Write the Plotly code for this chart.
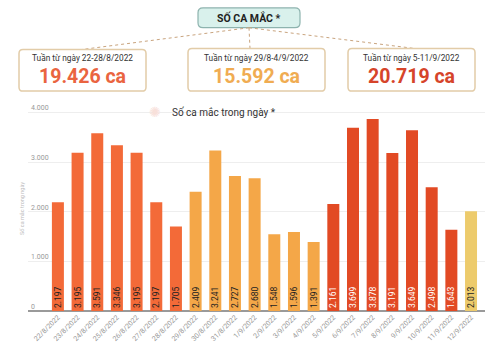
import plotly.graph_objects as go

dates = ["22/8/2022", "23/8/2022", "24/8/2022", "25/8/2022", "26/8/2022", "27/8/2022", "28/8/2022",
         "29/8/2022", "30/8/2022", "31/8/2022", "1/9/2022", "2/9/2022", "3/9/2022", "4/9/2022",
         "5/9/2022", "6/9/2022", "7/9/2022", "8/9/2022", "9/9/2022", "10/9/2022", "11/9/2022", "12/9/2022"]
cases = [2197, 3195, 3591, 3346, 3195, 2197, 1705,
         2409, 3241, 2727, 2680, 1548, 1596, 1391,
         2161, 3699, 3878, 3191, 3649, 2498, 1643, 2013]
week_of_bar = [0] * 7 + [1] * 7 + [2] * 7 + [3]
week_titles = ["Tuần từ ngày 22-28/8/2022", "Tuần từ ngày 29/8-4/9/2022", "Tuần từ ngày 5-11/9/2022"]
week_totals = ["19.426 ca", "15.592 ca", "20.719 ca"]
y_ticks = [0, 1000, 2000, 3000, 4000]
y_tick_labels = ["0", "1.000", "2.000", "3.000", "4.000"]

bar_colors = ["#F36A38", "#F4A748", "#E24A24", "#EDCB6C"]
label_colors = ["#222222", "#222222", "#FFFFFF", "#222222"]
total_colors = ["#EA6440", "#F0AC52", "#D6442A"]

W_FIG, H_FIG = 497, 355
Y_MAX = 4200
L, R, B = 28, 485, 313
T = B - Y_MAX * 0.05


def px(x):
    return (x - L) / (R - L)


def py(y):
    return (B - y) / (B - T)


def fmt(v):
    return f"{v:,}".replace(",", ".")


def rrect(x0, y0, x1, y1, r):
    a, b, c, d = px(x0), py(y0), px(x1), py(y1)
    rx = r / (R - L)
    ry = r / (B - T)
    return (f"M {a+rx},{b} L {c-rx},{b} Q {c},{b} {c},{b-ry} L {c},{d+ry} Q {c},{d} {c-rx},{d} "
            f"L {a+rx},{d} Q {a},{d} {a},{d+ry} L {a},{b-ry} Q {a},{b} {a+rx},{b} Z")


fig = go.Figure()
fig.add_trace(go.Bar(
    x=dates, y=cases,
    marker=dict(color=[bar_colors[w] for w in week_of_bar], line=dict(width=0)),
    text=[fmt(v) for v in cases],
    textposition="inside", insidetextanchor="start", textangle=-90,
    textfont=dict(size=8.5, color=[label_colors[w] for w in week_of_bar], family="Roboto"),
    cliponaxis=False, hoverinfo="skip",
))

shapes = []
annotations = []

# top header box
shapes.append(dict(type="path", xref="paper", yref="paper", path=rrect(198, 7, 300, 27, 5),
                   fillcolor="#D9F1EC", line=dict(color="#8DB3AE", width=1.2), layer="above"))
annotations.append(dict(x=px(249), y=py(17), xref="paper", yref="paper", text="<b>SỐ CA MẮC *</b>",
                        showarrow=False, font=dict(size=10.5, color="#222", family="Roboto"),
                        xanchor="center", yanchor="middle"))

# connector lines
for tx, ty in [(82, 49), (250, 48), (415, 48)]:
    shapes.append(dict(type="line", xref="paper", yref="paper", x0=px(249), y0=py(27), x1=px(tx), y1=py(ty),
                       line=dict(color="#C9A47E", width=1, dash="dot")))

boxes = [(19, 49, 146, 91), (188, 48, 325, 91), (348, 48, 475, 91)]
for i, (x0, y0, x1, y1) in enumerate(boxes):
    shapes.append(dict(type="path", xref="paper", yref="paper", path=rrect(x0, y0, x1, y1, 4),
                       fillcolor="#FFFFFF", line=dict(color="#E2CCA8", width=1.5)))
    cx = (x0 + x1) / 2
    annotations.append(dict(x=px(cx), y=py(58), xref="paper", yref="paper", text=week_titles[i],
                            showarrow=False, font=dict(size=8.3, color="#333", family="Roboto"),
                            xanchor="center", yanchor="middle"))
    annotations.append(dict(x=px(cx), y=py(76), xref="paper", yref="paper", text=f"<b>{week_totals[i]}</b>",
                            showarrow=False, font=dict(size=19.5, color=total_colors[i], family="Roboto"),
                            xanchor="center", yanchor="middle"))

# chart title
annotations.append(dict(x=px(170), y=py(112), xref="paper", yref="paper", text="Số ca mắc trong ngày *",
                        showarrow=False, font=dict(size=10, color="#333", family="Roboto"),
                        xanchor="left", yanchor="middle"))
annotations.append(dict(x=px(155), y=py(112), xref="paper", yref="paper", text="✺",
                        showarrow=False, font=dict(size=14, color="#F8E0DA"),
                        xanchor="center", yanchor="middle"))
# y-axis title
annotations.append(dict(x=px(22), y=py(210), xref="paper", yref="paper", text="Số ca mắc trong ngày",
                        showarrow=False, textangle=-90, font=dict(size=5.5, color="#BBBBBB", family="Roboto"),
                        xanchor="center", yanchor="middle"))

fig.update_layout(
    width=W_FIG, height=H_FIG,
    margin=dict(l=L, r=W_FIG - R, t=T, b=H_FIG - B, pad=0),
    paper_bgcolor="white", plot_bgcolor="white",
    bargap=0.39, showlegend=False,
    uniformtext=dict(minsize=8.5, mode="show"),
    shapes=shapes, annotations=annotations,
    font=dict(family="Roboto"),
    xaxis=dict(range=[-1.52, 21.71], tickangle=-45, tickfont=dict(size=7, color="#999"),
               showgrid=False, showline=False, ticks="", zeroline=False, fixedrange=True),
    yaxis=dict(range=[0, Y_MAX], tickvals=y_ticks, ticktext=y_tick_labels,
               ticklabelposition="inside top", tickfont=dict(size=7, color="#999"),
               showgrid=True, gridcolor="#EEEEEE", gridwidth=1,
               zeroline=True, zerolinecolor="#9A9A9A", zerolinewidth=1.5, showline=False, ticks=""),
)

fig.write_html("out.html", config={"displayModeBar": False},
               post_script="document.body.style.margin='0px';")
